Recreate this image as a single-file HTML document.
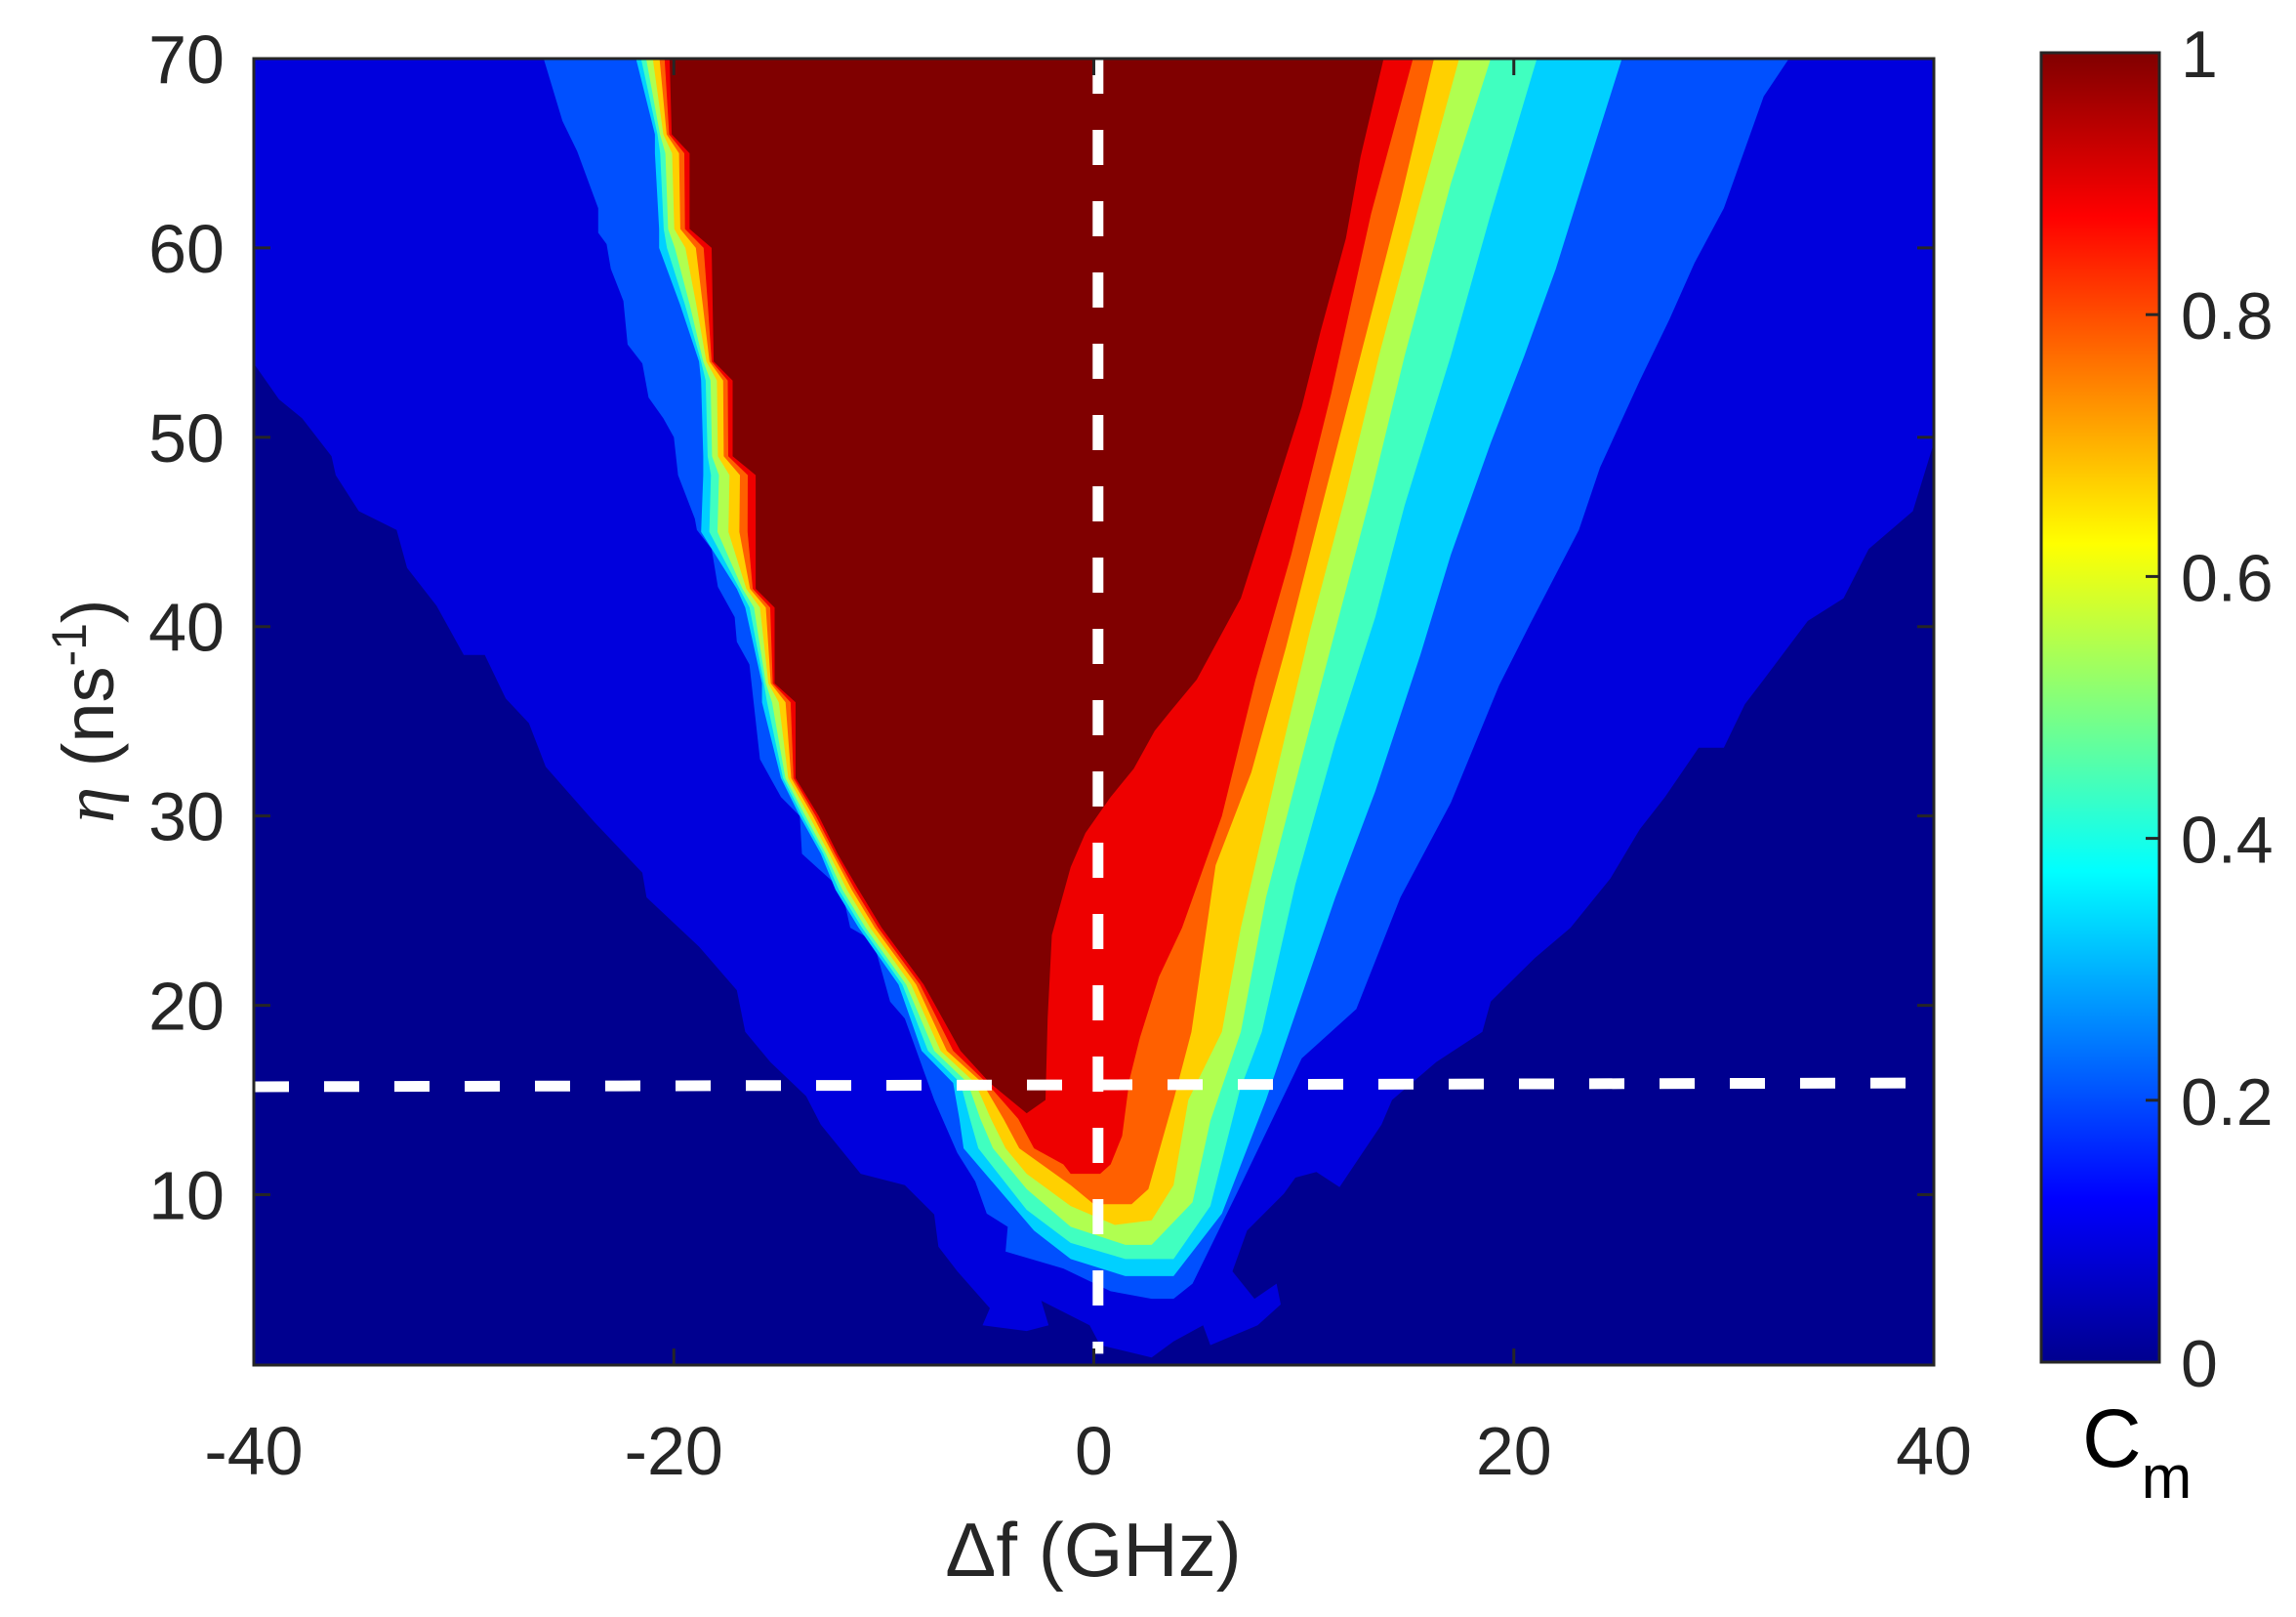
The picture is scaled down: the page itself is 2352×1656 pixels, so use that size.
<!DOCTYPE html>
<html><head><meta charset="utf-8"><style>
html,body{margin:0;padding:0;background:#fff;}
svg{display:block;font-family:"Liberation Sans",Arial,sans-serif;}
</style></head><body>
<svg id="chart" width="2352" height="1656" viewBox="0 0 2352 1656" xmlns="http://www.w3.org/2000/svg">
<defs><clipPath id="plotclip"><rect x="260" y="60" width="1721" height="1338"/></clipPath>
<linearGradient id="jet" x1="0" y1="1" x2="0" y2="0">
<stop offset="0" stop-color="#00008F"/><stop offset="0.125" stop-color="#0000FF"/><stop offset="0.375" stop-color="#00FFFF"/><stop offset="0.625" stop-color="#FFFF00"/><stop offset="0.875" stop-color="#FF0000"/><stop offset="1" stop-color="#800000"/>
</linearGradient></defs>
<g id="plot"></g>
<g id="axes"></g>
</svg>
<script>
const xTicks=[-40,-20,0,20,40];
const yTicks=[10,20,30,40,50,60,70];
const cbTicks=[0,0.2,0.4,0.6,0.8,1];
const cbLabels=["0","0.2","0.4","0.6","0.8","1"];
const levelColors=["#0000DD","#0050FF","#00D0FF","#40FFC0","#B0FF50","#FFD000","#FF6000","#EE0000","#800000"];
const level1=[[-40,70],[-40,53.9],[-38.8,52],[-37.7,51],[-36.3,49],[-36.1,48],[-35.0,46.1],[-33.2,45.1],[-32.7,43.1],[-31.3,41.1],[-30.0,38.5],[-29.0,38.5],[-28.0,36.2],[-26.9,34.9],[-26.1,32.6],[-23.8,29.7],[-21.5,27.0],[-21.3,25.7],[-18.8,23.1],[-17.0,20.8],[-16.6,18.6],[-15.4,17],[-13.7,15.2],[-13.0,13.7],[-11.1,11.1],[-9.0,10.5],[-7.6,8.95],[-7.4,7.25],[-6.5,5.95],[-4.95,4.0],[-5.3,3.1],[-3.2,2.8],[-2.15,3.1],[-2.5,4.4],[-0.2,3.1],[0.3,2.05],[2.75,1.4],[3.8,2.25],[5.2,3.1],[5.55,2.05],[7.8,3.1],[8.9,4.2],[8.7,5.3],[7.65,4.5],[6.6,5.95],[7.3,8.1],[9.05,10.05],[9.6,10.9],[10.6,11.2],[11.7,10.4],[13.7,13.7],[14.2,15],[16.3,17],[18.5,18.6],[18.9,20.2],[21.0,22.5],[22.7,24.1],[24.6,26.7],[26.0,29.3],[27.2,31.0],[28.8,33.6],[30.0,33.6],[31.0,35.9],[31.9,37.2],[34.0,40.3],[35.7,41.5],[36.9,44.1],[39.0,46.1],[40,49.7],[40,70]];
const level2=[[-26.2,70],[-25.3,66.7],[-24.6,65.1],[-23.6,62.1],[-23.6,60.8],[-23.2,60.2],[-23.0,58.9],[-22.4,57.2],[-22.2,54.9],[-21.5,53.9],[-21.2,52.1],[-20.5,51],[-20.0,50],[-19.8,48],[-19.0,45.7],[-18.9,45.1],[-18.2,44.1],[-17.9,42.1],[-17.1,40.5],[-17.0,39.2],[-16.4,38],[-15.9,33],[-14.9,31],[-14.0,30],[-13.9,28],[-12.0,26.1],[-11.6,24.1],[-10.5,23.4],[-9.7,20.2],[-9.0,19.3],[-7.6,15.0],[-6.5,12.2],[-5.65,10.7],[-5.1,9.0],[-4.1,8.3],[-4.2,7.0],[-1.45,6.1],[0.8,4.9],[2.75,4.5],[3.8,4.5],[4.7,5.3],[6.8,10.05],[9.9,17.2],[12.5,19.8],[14.6,25.7],[17.0,30.7],[19.3,36.9],[20.8,40.2],[23.1,45.1],[24.1,48.4],[26.0,53],[27.4,56.2],[28.6,59.2],[30.0,62.1],[31.9,68],[33.1,70]];
const level3=[[-21.8,70],[-20.9,66],[-20.9,65],[-20.7,61],[-20.7,60],[-19.7,57],[-18.8,54],[-18.7,53],[-18.6,49],[-18.6,48],[-18.7,45],[-17.0,42],[-16.6,41],[-15.8,37],[-15.8,36],[-14.9,32],[-14.0,30],[-13.0,28],[-12.3,26.1],[-11.2,24.1],[-9.3,21.1],[-8.2,17.6],[-6.7,15.9],[-6.4,14.0],[-6.2,12.45],[-2.85,8.1],[-1.1,6.6],[1.5,5.7],[3.8,5.7],[6.1,9.0],[8.2,15.0],[9.4,18.9],[11.5,25.7],[13.4,31.3],[15.55,38.5],[17.0,43.8],[18.9,49.7],[20.5,54.3],[22.0,58.9],[23.1,62.8],[25.15,70]];
const level4=[[-21.56,70],[-20.78,66],[-20.65,65],[-20.48,61],[-20.33,60],[-19.47,57],[-18.7,54],[-18.48,53],[-18.39,49],[-18.23,48],[-18.31,45],[-16.87,42],[-16.39,41],[-15.71,37],[-15.56,36],[-14.8,32],[-13.87,30],[-12.88,28],[-12.14,26.1],[-11.04,24.1],[-9.12,21.1],[-7.9,17.6],[-6.35,15.9],[-5.9,14.0],[-5.5,12.45],[-3.2,9.2],[-1.1,7.45],[1.5,6.6],[3.8,6.6],[5.55,9.4],[6.95,15.5],[8.0,18.6],[9.6,26.4],[11.5,33.9],[13.4,40.5],[14.8,46.4],[17.0,54.3],[18.9,61.8],[21.1,70]];
const level5=[[-21.32,70],[-20.66,66],[-20.4,65],[-20.27,61],[-19.95,60],[-19.24,57],[-18.6,54],[-18.25,53],[-18.18,49],[-17.85,48],[-17.92,45],[-16.73,42],[-16.18,41],[-15.62,37],[-15.32,36],[-14.69,32],[-13.73,30],[-12.76,28],[-11.97,26.1],[-10.87,24.1],[-8.94,21.1],[-7.6,17.6],[-6.0,15.9],[-5.4,14.0],[-4.8,12.45],[-3.2,10.3],[-1.1,8.3],[1.5,7.35],[2.75,7.35],[4.7,9.6],[5.55,13.9],[7.0,18.6],[8.2,25.7],[10.1,33.9],[11.5,39.8],[13.2,47],[14.8,54.3],[17.0,63.4],[18.9,70]];
const level6=[[-21.0,70],[-20.5,66],[-20.08,65],[-19.98,61],[-19.45,60],[-18.93,57],[-18.45,54],[-17.95,53],[-17.9,49],[-17.35,48],[-17.4,45],[-16.55,42],[-15.9,41],[-15.5,37],[-15.0,36],[-14.55,32],[-13.55,30],[-12.6,28],[-11.75,26.1],[-10.65,24.1],[-8.7,21.1],[-7.3,17.6],[-5.65,15.9],[-4.9,14.0],[-4.2,12.45],[-3.2,11.1],[-1.1,9.4],[1.0,8.4],[2.75,8.65],[3.8,10.5],[4.5,15.0],[6.1,18.6],[7.0,24.1],[8.7,32.3],[10.3,39.8],[12.0,47],[13.65,54.6],[15.55,62.5],[17.4,70]];
const level7=[[-20.68,70],[-20.34,66],[-19.75,65],[-19.69,61],[-18.95,60],[-18.62,57],[-18.3,54],[-17.65,53],[-17.62,49],[-16.85,48],[-16.88,45],[-16.37,42],[-15.62,41],[-15.38,37],[-14.68,36],[-14.41,32],[-13.37,30],[-12.44,28],[-11.53,26.1],[-10.43,24.1],[-8.46,21.1],[-7.0,17.6],[-5.3,15.9],[-4.3,14.0],[-3.55,12.45],[-1.1,10.5],[0,9.5],[1.8,9.5],[2.6,10.3],[3.8,15.0],[4.65,18.6],[5.8,27.4],[7.5,32.3],[9.15,38.9],[10.8,46.1],[12.7,54.3],[14.6,62.5],[16.2,70]];
const level8=[[-20.44,70],[-20.22,66],[-19.5,65],[-19.47,61],[-18.58,60],[-18.38,57],[-18.2,54],[-17.43,53],[-17.41,49],[-16.48,48],[-16.49,45],[-16.24,42],[-15.41,41],[-15.29,37],[-14.44,36],[-14.3,32],[-13.24,30],[-12.32,28],[-11.37,26.1],[-10.27,24.1],[-8.28,21.1],[-6.7,17.6],[-5.1,15.9],[-3.6,14.0],[-2.85,12.45],[-1.45,11.6],[-1.1,11.1],[0.3,11.1],[0.8,11.6],[1.35,13.1],[1.7,16.1],[2.2,18.3],[3.1,21.5],[4.2,24.1],[6.1,30],[7.7,37.2],[9.4,43.8],[11.3,52.3],[13.2,61.8],[15.2,70]];
const level9=[[-20.2,70],[-20.1,66],[-19.25,65],[-19.25,61],[-18.2,60],[-18.15,57],[-18.1,54],[-17.2,53],[-17.2,49],[-16.1,48],[-16.1,45],[-16.1,42],[-15.2,41],[-15.2,37],[-14.2,36],[-14.2,32],[-13.1,30],[-12.2,28],[-11.2,26.1],[-10.1,24.1],[-8.1,21.1],[-6.35,17.6],[-4.95,15.9],[-3.2,14.3],[-2.3,15.0],[-2.2,19.3],[-2.0,23.7],[-1.1,27.3],[-0.4,29.1],[0.8,31.0],[1.9,32.5],[2.9,34.5],[3.7,35.6],[4.9,37.2],[7.0,41.5],[8.7,47.4],[9.9,51.6],[10.8,55.6],[12.0,60.5],[12.7,64.8],[13.8,70]];
const levels=[level1,level2,level3,level4,level5,level6,level7,level8,level9];
const vLineF=0.2, vLineEtaBottom=1.6;
const hLineEtaLeft=15.7, hLineEtaRight=15.9;

const NS="http://www.w3.org/2000/svg";
const X0=260,X1=1981,Y0=60,Y1=1398;
const xs=f=>X0+(f+40)/80*(X1-X0);
const ys=e=>Y0+(70-e)/69*(Y1-Y0);
function mk(tag,attrs,parent){const el=document.createElementNS(NS,tag);for(const k in attrs)el.setAttribute(k,attrs[k]);parent.appendChild(el);return el;}
const plot=document.getElementById('plot');
const axes=document.getElementById('axes');
const clipG=mk('g',{'clip-path':'url(#plotclip)'},plot);
const bg=mk('rect',{x:X0,y:Y0,width:X1-X0,height:Y1-Y0,fill:'#00008F'},clipG);


levels.forEach((pts,i)=>{
  const d=pts.map((p,j)=>(j?'L':'M')+xs(p[0]).toFixed(1)+' '+ys(p[1]).toFixed(1)).join(' ')+' Z';
  const p=mk('path',{d:d,fill:levelColors[i]},clipG);
  
  
});
const vl=mk('line',{x1:xs(vLineF),y1:ys(70),x2:xs(vLineF),y2:ys(vLineEtaBottom),stroke:'#fff','stroke-width':11,'stroke-dasharray':'36 37'},clipG);


const hl=mk('line',{x1:xs(-40),y1:ys(hLineEtaLeft),x2:xs(40),y2:ys(hLineEtaRight),stroke:'#fff','stroke-width':11,'stroke-dasharray':'36 36'},clipG);


const fr=mk('rect',{x:X0,y:Y0,width:X1-X0,height:Y1-Y0,fill:'none',stroke:'#262626','stroke-width':3},axes);


xTicks.forEach(t=>{
  const x=xs(t);
  mk('line',{x1:x,y1:Y1,x2:x,y2:Y1-17,stroke:'#262626','stroke-width':3},axes);
  mk('line',{x1:x,y1:Y0,x2:x,y2:Y0+17,stroke:'#262626','stroke-width':3},axes);
  const tx=mk('text',{x:x,y:1510,'font-size':70,fill:'#262626','text-anchor':'middle'},axes);
  tx.textContent=String(t);
  
  
});
yTicks.forEach(t=>{
  const y=ys(t);
  mk('line',{x1:X0,y1:y,x2:X0+17,y2:y,stroke:'#262626','stroke-width':3},axes);
  mk('line',{x1:X1,y1:y,x2:X1-17,y2:y,stroke:'#262626','stroke-width':3},axes);
  const tx=mk('text',{x:230,y:y+25,'font-size':70,fill:'#262626','text-anchor':'end'},axes);
  tx.textContent=String(t);
  
  
});
const xt=mk('text',{x:1120,y:1614,'font-size':78,fill:'#262626','text-anchor':'middle'},axes);
xt.textContent='Δf (GHz)';


const yt=mk('text',{x:0,y:0,'font-size':74,fill:'#262626','text-anchor':'middle',transform:'translate(116,728) rotate(-90)'},axes);
yt.innerHTML='<tspan font-family="Liberation Serif" font-style="italic">η</tspan> (ns<tspan dy="-28" font-size="50">-1</tspan><tspan dy="28">)</tspan>';


const CB0=2091,CB1=2212,CBT=54,CBB=1395;
const cb=mk('rect',{x:CB0,y:CBT,width:CB1-CB0,height:CBB-CBT,fill:'url(#jet)',stroke:'#262626','stroke-width':3},axes);


cbTicks.forEach((t,i)=>{
  const y=CBB-t*(CBB-CBT);
  mk('line',{x1:CB1,y1:y,x2:CB1-14,y2:y,stroke:'#262626','stroke-width':3},axes);
  const tx=mk('text',{x:2234,y:y+25,'font-size':68,fill:'#262626'},axes);
  tx.textContent=cbLabels[i];
  
  
});
const ct=mk('text',{x:2133,y:1502,'font-size':84,fill:'#000'},axes);
ct.innerHTML='C<tspan dy="32" font-size="62">m</tspan>';


</script>
</body></html>
